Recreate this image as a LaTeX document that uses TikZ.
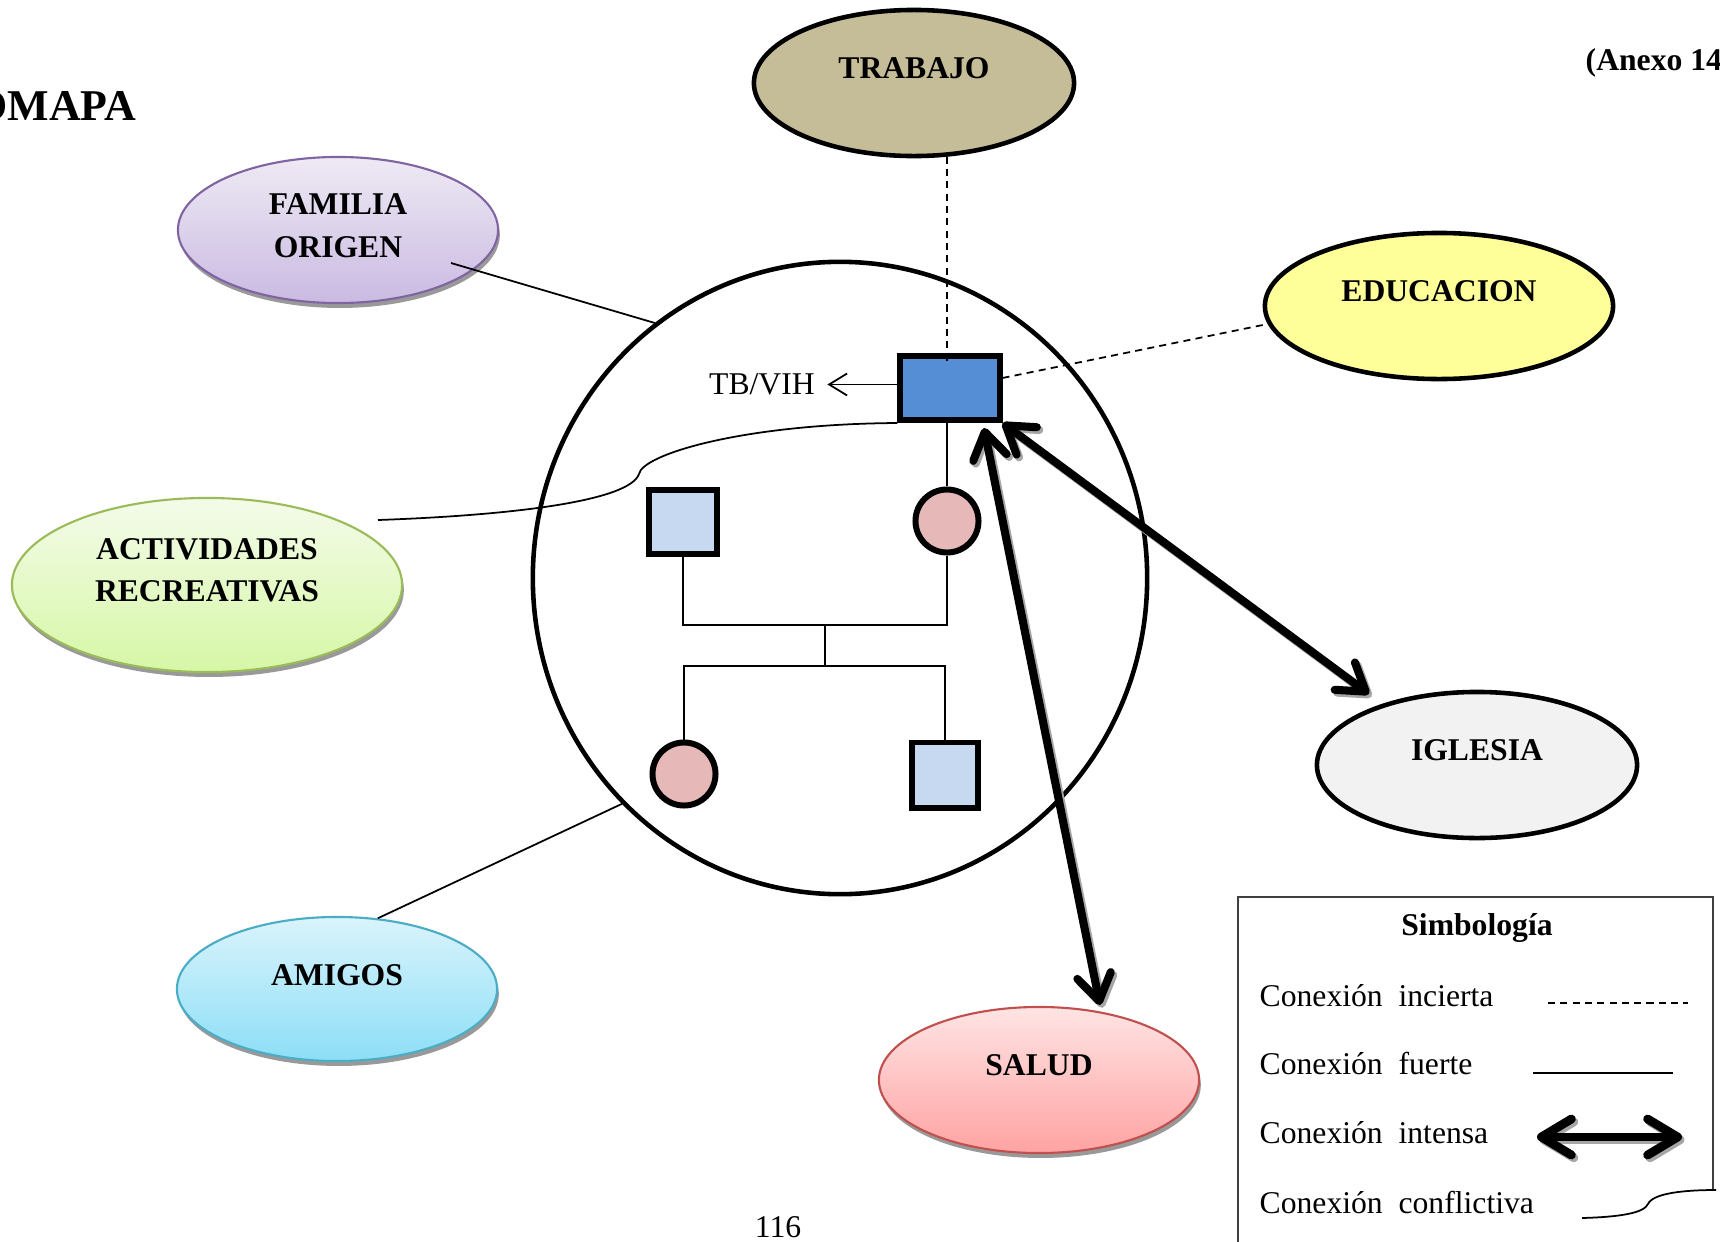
\documentclass[tikz,border=0pt]{standalone}
\usepackage{fontspec}
\setmainfont{Liberation Serif}
\usepackage{tikz}
\usetikzlibrary{calc,arrows.meta,shapes.geometric,positioning,shadows}
\definecolor{tierraT}{RGB}{196,189,151}
\definecolor{amarilloE}{RGB}{255,255,153}
\definecolor{grisI}{RGB}{242,242,242}
\definecolor{azulIdx}{RGB}{85,142,213}
\definecolor{azulClaro}{RGB}{198,217,241}
\definecolor{rosaMuj}{RGB}{230,185,184}
\definecolor{lilaBorde}{RGB}{128,100,162}
\definecolor{lilaArriba}{RGB}{238,234,244}
\definecolor{lilaAbajo}{RGB}{202,186,226}
\definecolor{verdeBorde}{RGB}{155,187,89}
\definecolor{verdeArriba}{RGB}{244,251,234}
\definecolor{verdeAbajo}{RGB}{214,247,166}
\definecolor{celesteBorde}{RGB}{75,172,198}
\definecolor{celesteArriba}{RGB}{218,244,252}
\definecolor{celesteAbajo}{RGB}{140,222,246}
\definecolor{rojoBorde}{RGB}{192,80,77}
\definecolor{rojoArriba}{RGB}{255,228,228}
\definecolor{rojoAbajo}{RGB}{255,163,163}
\tikzset{
    % Sistemas externos (elipses)
    sistema/.style={ellipse, inner sep=0pt, minimum width=3.2cm, minimum height=1.46cm},
    fuertesis/.style={sistema, draw=black, line width=1.3pt},
    suavesis/.style={sistema, line width=0.6pt,
        drop shadow={shadow xshift=0.5pt, shadow yshift=-1.4pt, fill=black!40, opacity=1}},
    % Textos
    etiq/.style={font=\fontsize{9}{12}\selectfont\bfseries, align=center, inner sep=0pt},
    texto/.style={font=\fontsize{9}{11}\selectfont, inner sep=0pt},
    % Genograma
    varon/.style={rectangle, draw, line width=1.7pt, fill=azulClaro, inner sep=0pt,
        minimum width=0.68cm, minimum height=0.63cm},
    mujer/.style={circle, draw, line width=1.7pt, fill=rosaMuj, inner sep=0pt, minimum size=0.63cm},
    genline/.style={line width=0.5pt},
}
\tikzset{
    % Tipos de conexion
    fuerte/.style={line width=0.5pt},
    incierta/.style={line width=0.5pt, dash pattern=on 2pt off 1.5pt},
    conflicto/.style={line width=0.5pt},
    intensa/.style={{Straight Barb[round,length=2.6mm,width=3.4mm]}-{Straight Barb[round,length=2.6mm,width=3.4mm]},
        line width=2.3pt, line cap=round},
    intensaley/.style={intensa, {Straight Barb[round,length=3mm,width=3.6mm]}-{Straight Barb[round,length=3mm,width=3.6mm]},
        line width=2.5pt},
    sombra/.style={black!35, transform canvas={xshift=0.7pt, yshift=-0.8pt}},
    flechita/.style={-{Straight Barb[length=1.8mm,width=2.2mm]}, line width=0.5pt},
}

\begin{document}
\begin{tikzpicture}[x=0.01cm, y=-0.01cm]
  \path[use as bounding box, fill=white] (0,0) rectangle (1720,1242);

  % encabezado de pagina
  \node[etiq, font=\fontsize{12.5}{14}\selectfont\bfseries, anchor=east] (titulo) at (137,106) {OMAPA};
  \node[etiq, anchor=base west] (anexo) at (1585,70) {(Anexo 14};
  \node[texto] (pagina) at (778,1227) {116};

  % hogar
  \node[ellipse, draw, line width=1.3pt, minimum width=6.14cm, minimum height=6.32cm] (hogar) at (840,578) {};

  % sistemas externos
  \node[fuertesis, fill=tierraT] (trab) at (914,83) {};
  \node[etiq] (trabT) at ([yshift=4.2pt]trab.center) {TRABAJO};
  \node[suavesis, draw=lilaBorde, top color=lilaArriba, bottom color=lilaAbajo] (fam) at (338,230) {};
  \node[etiq] (famT) at ([yshift=1.2pt]fam.center) {FAMILIA\\ORIGEN};
  \node[fuertesis, fill=amarilloE, minimum width=3.48cm] (edu) at (1439,306) {};
  \node[etiq] (eduT) at ([yshift=4.2pt]edu.center) {EDUCACION};
  \node[suavesis, draw=verdeBorde, top color=verdeArriba, bottom color=verdeAbajo,
        minimum width=3.9cm, minimum height=1.74cm] (activ) at (207,585) {};
  \node[etiq] (activT) at ([yshift=4.2pt]activ.center) {ACTIVIDADES\\RECREATIVAS};
  \node[fuertesis, fill=grisI] (igl) at (1477,765) {};
  \node[etiq] (iglT) at ([yshift=4.2pt]igl.center) {IGLESIA};
  \node[suavesis, draw=celesteBorde, top color=celesteArriba, bottom color=celesteAbajo,
        minimum height=1.44cm] (amig) at (337,989) {};
  \node[etiq] (amigT) at ([yshift=4pt]amig.center) {AMIGOS};
  \node[suavesis, draw=rojoBorde, top color=rojoArriba, bottom color=rojoAbajo] (salud) at (1039,1080) {};
  \node[etiq] (saludT) at ([yshift=4.2pt]salud.center) {SALUD};

  % genograma
  \node[varon, fill=azulIdx, minimum width=0.99cm, minimum height=0.64cm] (idx) at (950,388) {};
  \node[varon] (padre) at (683,522) {};
  \node[mujer] (madre) at (947,521) {};
  \node[mujer] (hija) at (684,774) {};
  \node[varon, minimum width=0.65cm, minimum height=0.65cm] (hijo) at (945,775) {};
  \coordinate (union) at (825,625);
  \coordinate (hijos) at (825,666);
  \draw[genline] (idx.south -| madre.north) -- (madre.north);
  \draw[genline] (padre.south) |- (union) -| (madre.south);
  \draw[genline] (union) -- (hijos);
  \draw[genline] (hija.north) |- (hijos) -| (hijo.north);
  \node[texto, left=0.82cm of idx, yshift=1pt] (tbvih) {TB/VIH};
  \draw[flechita, shorten >=1.2mm] (idx.west |- tbvih.east) -- (tbvih.east);

  % conexiones
  \draw[fuerte] ([shift={(113,33)}]fam.center) -- (hogar.126);
  \draw[fuerte] (amig.60) -- (hogar.226);
  \draw[incierta] (trab.-66) -- ($(trab.-66 |- idx.north)+(0,9)$);
  \draw[incierta] ([yshift=0.1cm]idx.east) -- (edu.186);
  \draw[conflicto] ([shift={(171,-65)}]activ.center) .. controls (520,515) and (630,500) .. (639,474)
     .. controls (642,455) and (740,424) .. (idx.south west);
  \coordinate (iglTip) at (1369,694);
  \coordinate (salTop) at (984,428);
  \coordinate (salTip) at (1100,1005);
  \draw[intensa, sombra] (idx.south east) -- (iglTip);
  \draw[intensa] (idx.south east) -- (iglTip);
  \draw[intensa, sombra] (salTop) -- (salTip);
  \draw[intensa] (salTop) -- (salTip);

  % simbologia
  \draw[line width=0.6pt, black!75] (1238,1260) -- (1238,897) -- (1713,897) -- (1713,1190);
  \node[etiq, anchor=base] (simb) at (1477,935) {Simbología};
  \node[texto, anchor=base west] (leyInc) at (1259,1006) {Conexión\ \ incierta};
  \node[texto, anchor=base west] (leyFue) at (1259,1074) {Conexión\ \ fuerte};
  \node[texto, anchor=base west] (leyInt) at (1259,1143) {Conexión\ \ intensa};
  \node[texto, anchor=base west] (leyCon) at (1259,1213) {Conexión\ \ conflictiva};
  \coordinate (incA) at (1548,1003); \coordinate (incB) at (1688,1003);
  \coordinate (fueA) at (1533,1073); \coordinate (fueB) at (1673,1073);
  \coordinate (intA) at (1537,1137); \coordinate (intB) at (1682,1137);
  \coordinate (conA) at (1582,1218); \coordinate (conB) at (1716,1190);
  \draw[incierta] (incA) -- (incB);
  \draw[fuerte] (fueA) -- (fueB);
  \draw[intensaley, sombra] (intA) -- (intB);
  \draw[intensaley] (intA) -- (intB);
  \draw[conflicto] (conA) .. controls (1620,1217) and (1644,1213) .. (1648,1204)
     .. controls (1653,1193) and (1685,1190) .. (conB);
\end{tikzpicture}
\end{document}
